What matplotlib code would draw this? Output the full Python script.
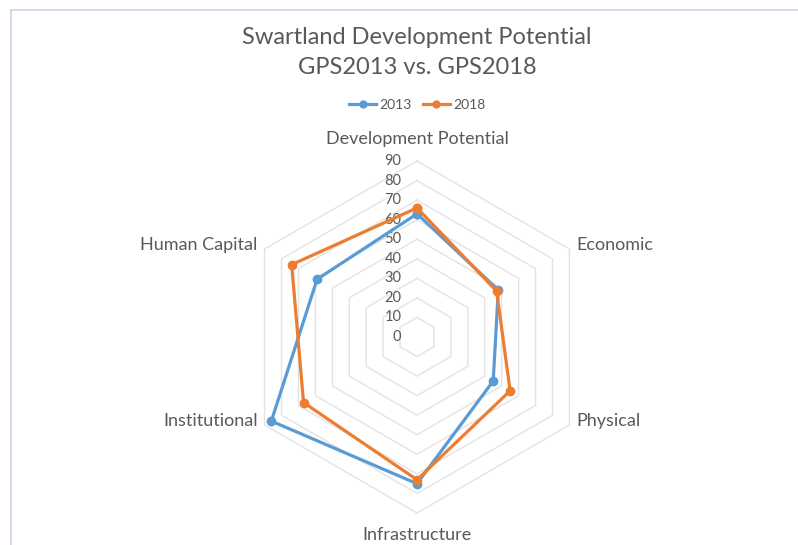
import numpy as np
import matplotlib.pyplot as plt
from matplotlib.lines import Line2D

categories = ["Development Potential", "Economic", "Physical",
              "Infrastructure", "Institutional", "Human Capital"]
gps2013 = [63, 48, 45, 75, 86, 59]
gps2018 = [66, 47, 55, 73, 67, 74]
ticks = [0, 10, 20, 30, 40, 50, 60, 70, 80, 90]

BLUE = "#5B9BD5"
ORANGE = "#ED7D31"
GREY = "#595959"
FONT = ["Lato", "DejaVu Sans"]

W, H = 798, 545
cx, cy = 417, 337          # centre of the radar in pixels
scale = 176 / 90.0         # pixels per unit

fig = plt.figure(figsize=(W / 100, H / 100), dpi=100)
ax = fig.add_axes([0, 0, 1, 1])
ax.set_xlim(-cx / scale, (W - cx) / scale)
ax.set_ylim((cy - H) / scale, cy / scale)
ax.axis("off")

n = len(categories)
ang = np.arange(n) * 2 * np.pi / n


def xy(vals):
    v = np.asarray(vals, dtype=float)
    x = v * np.sin(ang)
    y = v * np.cos(ang)
    return np.append(x, x[0]), np.append(y, y[0])


# hexagonal grid rings
for t in ticks[1:]:
    gx, gy = xy([t] * n)
    ax.plot(gx, gy, color="#E3E3E3", lw=1.0, zorder=1)

for t in ticks:
    ax.text(-8.0, t, str(t), ha="right", va="center", fontsize=10.5,
            color=GREY, family=FONT, zorder=2)

for vals, col in [(gps2013, BLUE), (gps2018, ORANGE)]:
    px, py = xy(vals)
    ax.plot(px, py, color=col, lw=2.3, marker="o", ms=6, zorder=3)

# category labels
pad = 94
for a, name in zip(ang, categories):
    s, c = np.sin(a), np.cos(a)
    if abs(s) < 1e-6:
        ha = "center"
        x, y = 0, (pad + 7) * c
    else:
        ha = "left" if s > 0 else "right"
        x, y = pad * s, 90 * c + 2
    ax.text(x, y, name, ha=ha, va="center", fontsize=13, color=GREY, family=FONT)

fig.text(cx / W, 1 - 38 / H, "Swartland Development Potential", ha="center",
         va="center", fontsize=17, color=GREY, family=FONT)
fig.text(cx / W, 1 - 68 / H, "GPS2013 vs. GPS2018", ha="center",
         va="center", fontsize=17, color=GREY, family=FONT)

handles = [Line2D([], [], color=BLUE, lw=2.3, marker="o", ms=5),
           Line2D([], [], color=ORANGE, lw=2.3, marker="o", ms=5)]
fig.legend(handles, ["2013", "2018"], loc="center", bbox_to_anchor=(cx / W, 1 - 105 / H),
           ncol=2, frameon=False, handlelength=2.0, handletextpad=0.2,
           columnspacing=0.8, prop={"family": FONT, "size": 10}, labelcolor=GREY)

# chart area border (top and left edges)
fig.add_artist(Line2D([11 / W, 1], [1 - 10 / H, 1 - 10 / H], color="#C5D5EA", lw=1.2))
fig.add_artist(Line2D([11 / W, 11 / W], [0, 1 - 10 / H], color="#C5D5EA", lw=1.2))

fig.savefig("out.png", dpi=100)
